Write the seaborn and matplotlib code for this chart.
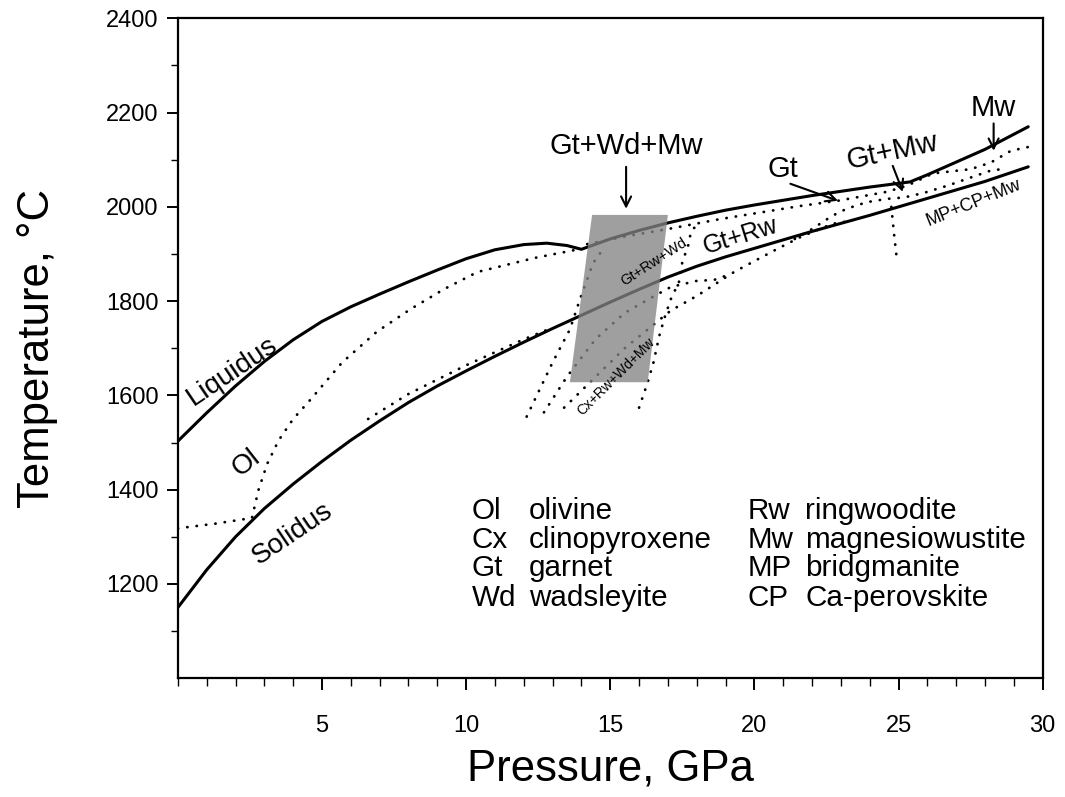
import matplotlib
matplotlib.use("Agg")
import matplotlib.pyplot as plt
from matplotlib.ticker import MultipleLocator, FixedLocator
import seaborn as sns

sns.set_theme(style="ticks")
plt.rcParams['font.family'] = ['Liberation Sans', 'DejaVu Sans']
plt.rcParams['text.color'] = 'black'
plt.rcParams['axes.labelcolor'] = 'black'

# ---------------- data ----------------
liq_P = [0, 1, 2, 3, 4, 5, 6, 7, 8, 9, 10, 11, 12, 12.8, 13.5, 14.0,
         15, 16, 17, 18, 19, 20, 21, 22, 23, 24, 25.4, 26, 27, 28, 29.5]
liq_T = [1503, 1563, 1620, 1672, 1718, 1757, 1788, 1815, 1841, 1866, 1890, 1909, 1920, 1923, 1918, 1910,
         1932, 1950, 1966, 1980, 1993, 2004, 2014, 2024, 2033, 2042, 2053, 2068, 2095, 2122, 2170]

sol_P = [0, 1, 2, 3, 4, 5, 6, 7, 8, 9, 10, 11, 12, 13, 14, 15, 16, 17, 18, 19, 20,
         21, 22, 23, 24, 25, 26, 27, 28, 29.5]
sol_T = [1150, 1230, 1300, 1360, 1412, 1460, 1505, 1546, 1585, 1620, 1652, 1683, 1713, 1742, 1770,
         1798, 1825, 1851, 1874, 1894, 1912, 1930, 1948, 1965, 1982, 2000, 2018, 2036, 2054, 2085]

ol_P = [0, 1.3, 2.57, 2.8, 3.1, 3.5, 4.0, 4.6, 5.7, 6.9, 8.07, 9.25, 10.4, 12.4, 13.9]
ol_T = [1318, 1328, 1340, 1400, 1455, 1505, 1550, 1591, 1670, 1735, 1783, 1826, 1862, 1892, 1910]

nsol_P = [6.6, 8, 10, 12, 13.0]
nsol_T = [1550, 1603, 1664, 1719, 1744]

b1_P = [12.1, 13.0, 13.6, 13.95, 14.4, 14.8]
b1_T = [1555, 1670, 1740, 1804, 1880, 1915]

b2_P = [12.7, 13.5, 14.5, 15.5, 16.5, 17.1, 18.0, 18.6, 19.2]
b2_T = [1564, 1640, 1720, 1775, 1810, 1830, 1843, 1845, 1858]

b3_P = [13.4, 14.5, 15.5, 16.5, 17.1, 18.0, 19.3, 20.0, 20.8, 21.6, 22.7, 23.3]
b3_T = [1574, 1640, 1700, 1750, 1780, 1811, 1862, 1885, 1911, 1936, 1964, 1970]

b4_P = [16.0, 16.3, 16.5, 16.7, 16.9, 17.1, 17.4, 17.5, 17.7, 17.8, 18.0]
b4_T = [1574, 1628, 1670, 1726, 1768, 1804, 1843, 1883, 1917, 1947, 1962]

up_P = [14.2, 15.5, 17.0, 18.8, 21.6, 22.9, 24.6, 25.3, 26.2, 27.5, 28.2, 28.9, 29.5]
up_T = [1921, 1937, 1953, 1974, 2002, 2013, 2032, 2045, 2071, 2080, 2094, 2119, 2127]

mw_P = [21.4, 22.0, 22.7, 23.2, 23.9, 24.6, 25.2, 25.9, 26.7, 27.4, 28.2, 28.7]
mw_T = [1932, 1953, 1981, 1996, 2010, 2017, 2020, 2030, 2045, 2060, 2077, 2081]

mp_P = [24.75, 24.85, 24.95]
mp_T = [2000, 1940, 1885]

box_P = [13.6, 14.37, 17.0, 16.3]
box_T = [1628, 1983, 1983, 1628]

leg_abbr1 = ["Ol", "Cx", "Gt", "Wd"]
leg_name1 = ["olivine", "clinopyroxene", "garnet", "wadsleyite"]
leg_abbr2 = ["Rw", "Mw", "MP", "CP"]
leg_name2 = ["ringwoodite", "magnesiowustite", "bridgmanite", "Ca-perovskite"]
leg_rows_T = [1355, 1293, 1233, 1170]

# ---------------- figure ----------------
fig = plt.figure(figsize=(10.65, 7.97), dpi=100)
ax = fig.add_axes([0.167, 0.149, 0.812, 0.828])

solid = dict(color='black', lw=2.2, sort=False, estimator=None, ax=ax, zorder=2)
dots = dict(color='black', lw=2.0, sort=False, estimator=None, ax=ax, zorder=2,
            linestyle=(0, (0.1, 3.3)), dash_capstyle='round')

sns.lineplot(x=liq_P, y=liq_T, **solid)
sns.lineplot(x=sol_P, y=sol_T, **solid)
for P, T in [(ol_P, ol_T), (nsol_P, nsol_T), (b1_P, b1_T), (b2_P, b2_T),
             (b3_P, b3_T), (b4_P, b4_T), (up_P, up_T), (mw_P, mw_T), (mp_P, mp_T)]:
    sns.lineplot(x=P, y=T, **dots)

ax.fill(box_P, box_T, color='#838383', alpha=0.77, lw=0, zorder=3)

ax.set_xlim(0, 30)
ax.set_ylim(1000, 2400)
ax.xaxis.set_major_locator(FixedLocator([5, 10, 15, 20, 25, 30]))
ax.xaxis.set_minor_locator(MultipleLocator(1))
ax.yaxis.set_major_locator(FixedLocator([1200, 1400, 1600, 1800, 2000, 2200, 2400]))
ax.yaxis.set_minor_locator(FixedLocator([1100, 1300, 1500, 1700, 1900, 2100, 2300]))

ax.tick_params(axis='x', which='major', direction='out', length=8.6, width=1.4,
               pad=18, labelsize=17, colors='black')
ax.tick_params(axis='x', which='minor', direction='out', length=5.5, width=1.0, colors='black')
ax.tick_params(axis='y', which='major', direction='out', length=8, width=1.4,
               pad=6, labelsize=17, colors='black')
ax.tick_params(axis='y', which='minor', direction='out', length=5, width=1.0, colors='black')
for s in ax.spines.values():
    s.set_linewidth(1.6)
    s.set_color('black')

ax.set_xlabel("Pressure, GPa", fontsize=31.5)
ax.set_ylabel("Temperature, \u00b0C", fontsize=31.5)
ax.xaxis.set_label_coords(0.5, -0.138)
ax.xaxis.label.set_va('center')
ax.yaxis.set_label_coords(-0.162, 0.5)
ax.yaxis.label.set_va('center')

# curve labels
ax.text(1.9, 1652, "Liquidus", fontsize=20, rotation=34, ha='center', va='center')
ax.text(2.36, 1457, "Ol", fontsize=20, rotation=38, ha='center', va='center')
ax.text(3.97, 1306, "Solidus", fontsize=20, rotation=34, ha='center', va='center')
ax.text(16.5, 1883, "Gt+Rw+Wd", fontsize=10.5, rotation=33, ha='center', va='center', zorder=4)
ax.text(15.2, 1640, "Cx+Rw+Wd+Mw", fontsize=10, rotation=45, ha='center', va='center', zorder=4)
ax.text(19.5, 1938, "Gt+Rw", fontsize=18, rotation=17, ha='center', va='center')
ax.text(27.6, 2009, "MP+CP+Mw", fontsize=13, rotation=22, ha='center', va='center')

arrow = dict(arrowstyle='->,head_length=0.6,head_width=0.3', color='black', lw=1.5,
             shrinkA=0, shrinkB=0)
ax.text(15.55, 2130, "Gt+Wd+Mw", fontsize=21, ha='center', va='center')
ax.annotate("", xy=(15.55, 1996), xytext=(15.55, 2085), arrowprops=arrow)
ax.text(21.0, 2081, "Gt", fontsize=21, ha='center', va='center')
ax.annotate("", xy=(22.9, 2013), xytext=(21.25, 2049), arrowprops=arrow)
ax.text(24.8, 2117, "Gt+Mw", fontsize=21, rotation=12, ha='center', va='center')
ax.annotate("", xy=(25.15, 2032), xytext=(24.8, 2087), arrowprops=arrow)
ax.text(28.3, 2209, "Mw", fontsize=21, ha='center', va='center')
ax.annotate("", xy=(28.3, 2119), xytext=(28.3, 2177), arrowprops=arrow)

# abbreviation legend
for a, n, a2, n2, T in zip(leg_abbr1, leg_name1, leg_abbr2, leg_name2, leg_rows_T):
    ax.text(10.2, T, a, fontsize=21.3, ha='left', va='center')
    ax.text(12.17, T, n, fontsize=21.3, ha='left', va='center')
    ax.text(19.75, T, a2, fontsize=21.3, ha='left', va='center')
    ax.text(21.77, T, n2, fontsize=21.3, ha='left', va='center')

fig.savefig("out.png", dpi=100)
